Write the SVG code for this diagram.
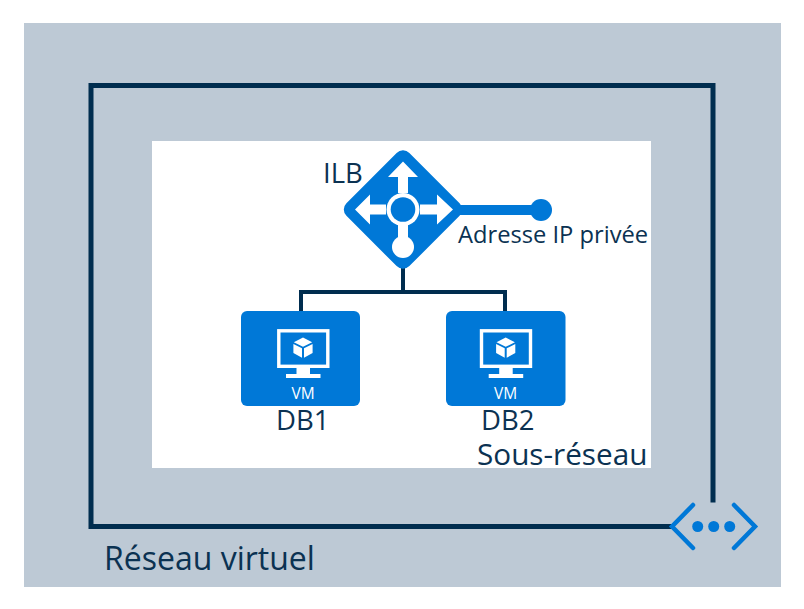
<svg xmlns="http://www.w3.org/2000/svg" width="804" height="609" viewBox="0 0 804 609">
<style>
.t{font-family:"Open Sans","Noto Sans","Liberation Sans",sans-serif;fill:#0b3252}
.b{fill:#0078d7}
.w{fill:#fff}
.c{fill:none;stroke:#002d4f}
</style>
<defs>
<g id="vm">
<rect x="37.800" y="19.800" width="49" height="35.500" fill="none" stroke="#fff" stroke-width="3.400"/>
<path class="w" d="M55.500 57h13.500v6h10.500v4h-34.500v-4h10.500z"/>
<path class="w" d="M62 26.500l9.200 4.700-9.200 4.600-9.200-4.600zM52.400 33l8.600 4.300v9.500l-8.600-4.800zM71.600 33v9l-8.600 4.800v-9.500z"/>
<text class="w" x="62" y="88" text-anchor="middle" font-family="'Open Sans','Noto Sans','Liberation Sans',sans-serif" font-size="15.500">VM</text>
</g>
</defs>
<rect x="24" y="23" width="757" height="564" fill="#bdc9d5"/>
<rect x="152" y="141" width="499" height="327" fill="#fff"/>
<g id="connectors">
<path class="c" stroke-width="5" d="M713 502.500V85.500H91V526.500H672"/>
<path class="c" stroke-width="4" d="M403 268V292M301 311V292H505V311"/>
<path stroke="#0078d7" stroke-width="10" fill="none" d="M458 210H540"/>
</g>
<g id="ilb">
<rect class="b" x="358.500" y="165" width="89" height="89" rx="9" transform="rotate(45 403 209.500)"/>
<circle class="b" cx="541" cy="210" r="11"/>
<path class="w" d="M403 161.500L418 177H408V193H398V177H388ZM355 209.500L370 194.500V204.500H386V214.500H370V224.500ZM453 209.500L437 194.500V204.500H420V214.500H437V224.500ZM398 225H408V240H398Z"/>
<circle class="w" cx="403" cy="209.500" r="16.500"/>
<circle class="b" cx="403" cy="209.500" r="12.300"/>
<circle class="w" cx="403" cy="247" r="11"/>
<text class="t" x="323" y="183" font-size="27.500">ILB</text>
<text class="t" x="458" y="243" font-size="23.700">Adresse IP privée</text>
</g>
<g id="db1">
<rect class="b" x="241" y="311" width="119" height="95" rx="6"/>
<use href="#vm" x="241" y="311"/>
<text class="t" x="276" y="430" font-size="27.500">DB1</text>
</g>
<g id="db2">
<rect class="b" x="446" y="311" width="119.500" height="95" rx="6"/>
<use href="#vm" x="443.700" y="311"/>
<text class="t" x="481" y="430" font-size="27.500">DB2</text>
</g>
<g id="subnet"><text class="t" x="477" y="465" font-size="29.700">Sous-réseau</text></g>
<g id="vnet"><text class="t" x="104" y="570" font-size="32">Réseau virtuel</text></g>
<g id="gateway">
<path fill="none" stroke="#0078d7" stroke-width="4.500" stroke-linecap="round" stroke-linejoin="miter" d="M693 505L672 526.500L693 548M734 505L755 526.500L734 548"/>
<circle class="b" cx="697.700" cy="526.500" r="5.500"/>
<circle class="b" cx="713.700" cy="526.500" r="5.500"/>
<circle class="b" cx="729.700" cy="526.500" r="5.500"/>
</g>
</svg>
